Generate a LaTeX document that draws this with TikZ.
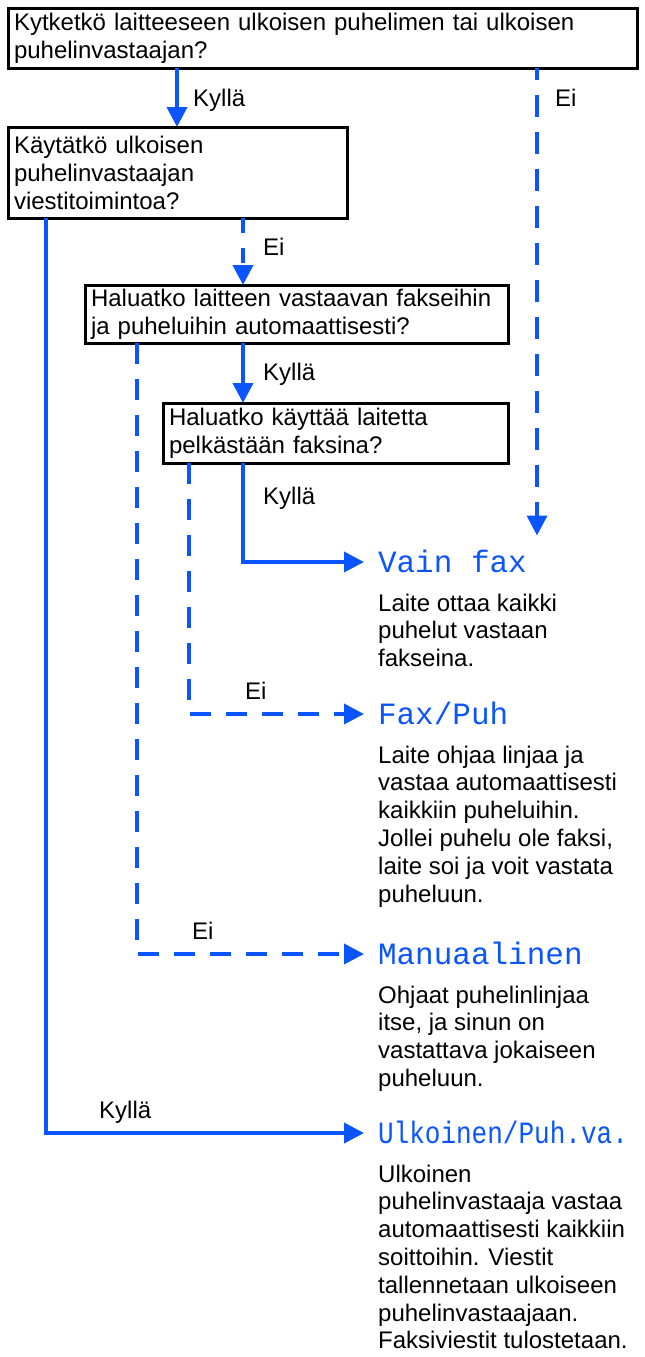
\documentclass[tikz,border=0pt]{standalone}
\usepackage{fontspec}
\setmainfont{Liberation Sans}
\newfontfamily\lcdfont{Liberation Mono}
\usetikzlibrary{arrows.meta,calc}
\definecolor{flowblue}{RGB}{10,85,255}
\begin{document}
\begin{tikzpicture}[x=1pt,y=-1pt,
  qbox/.style={draw=black,line width=3pt,rectangle,anchor=north west,align=left,
    inner xsep=6pt,inner ysep=0pt,outer sep=0pt,font=\fontsize{24}{28}\selectfont},
  yesline/.style={draw=flowblue,line width=3.8pt},
  noline/.style={draw=flowblue,line width=3.8pt,dash pattern=on 21pt off 15pt},
  tip/.style={-{Triangle[length=20pt,width=20pt]}},
  lbl/.style={font=\fontsize{24}{28}\selectfont,inner sep=0pt,anchor=base west},
  outc/.style={font=\lcdfont\fontsize{31}{31}\selectfont,text=flowblue,inner sep=0pt,
    outer sep=0pt,anchor=west,text height=21pt,text depth=0pt},
  desc/.style={font=\fontsize{24}{27.8}\selectfont,inner sep=0pt,anchor=north west,align=left},
]
\useasboundingbox (0,0) rectangle (645,1357);

% column coordinates
\coordinate (cK1) at (177,0);
\coordinate (cE1) at (537,0);
\coordinate (cL)  at (46,0);
\coordinate (cM)  at (243,0);
\coordinate (cE3) at (137,0);
\coordinate (cE4) at (189,0);

% question boxes
\node[qbox,minimum width=629pt,minimum height=60pt,text width=617pt] (q1) at (8,8)
  {Kytketkö laitteeseen ulkoisen puhelimen tai ulkoisen\\puhelinvastaajan?};
\node[qbox,minimum width=339pt,minimum height=91pt,text width=327pt] (q2) at (8,127)
  {Käytätkö ulkoisen\\puhelinvastaajan\\viestitoimintoa?};
\node[qbox,minimum width=423pt,minimum height=58pt,text width=411pt] (q3) at (85,285)
  {Haluatko laitteen vastaavan fakseihin\\ja puheluihin automaattisesti?};
\node[qbox,minimum width=345pt,minimum height=60pt,text width=333pt] (q4) at (163,403)
  {Haluatko käyttää laitetta\\pelkästään faksina?};

% outcomes
\node[outc] (o1) at (378,562) {Vain fax};
\node[outc] (o2) at (378,714) {Fax/Puh};
\node[outc] (o3) at (378,954) {Manuaalinen};
\node[outc] (o4) at (378,1133) {\scalebox{0.84}[1]{Ulkoinen/Puh.va.}};

\node[desc] (d1) at (378,593.5) {Laite ottaa kaikki\\puhelut vastaan\\fakseina.};
\node[desc] (d2) at (378,745.5) {Laite ohjaa linjaa ja\\vastaa automaattisesti\\kaikkiin puheluihin.\\Jollei puhelu ole faksi,\\laite soi ja voit vastata\\puheluun.};
\node[desc] (d3) at (378,985.5) {Ohjaat puhelinlinjaa\\itse, ja sinun on\\vastattava jokaiseen\\puheluun.};
\node[desc] (d4) at (378,1164.5) {Ulkoinen\\puhelinvastaaja vastaa\\automaattisesti kaikkiin\\soittoihin. Viestit\\tallennetaan ulkoiseen\\puhelinvastaajaan.\\Faksiviestit tulostetaan.};

% connectors
\draw[yesline,tip] (q1.south -| cK1) -- (q2.north -| cK1);
\draw[noline,dash pattern=on 22pt off 15pt,dash phase=10pt,tip,shorten >=16pt] (q1.south -| cE1) -- (o1.north -| cE1);
\draw[noline,dash pattern=on 15pt off 15pt,tip] (q2.south -| cM) -- (q3.north -| cM);
\draw[yesline,tip,shorten >=14pt] (q2.south -| cL) |- (o4.west);
\draw[yesline,tip] (q3.south -| cM) -- (q4.north -| cM);
\draw[noline,tip,shorten >=14pt] (q3.south -| cE3) |- (o3.west);
\draw[yesline,tip,shorten >=14pt] (q4.south -| cM) |- (o1.west);
\draw[noline,tip,shorten >=14pt] (q4.south -| cE4) |- (o2.west);

% branch labels
\node[lbl] (l1) at (193,106) {Kyllä};
\node[lbl] (l2) at (555,106) {Ei};
\node[lbl] (l3) at (263,255) {Ei};
\node[lbl] (l4) at (263,380) {Kyllä};
\node[lbl] (l5) at (263,504) {Kyllä};
\node[lbl] (l6) at (245,699) {Ei};
\node[lbl] (l7) at (192,939) {Ei};
\node[lbl] (l8) at (99,1118) {Kyllä};
\end{tikzpicture}
\end{document}
